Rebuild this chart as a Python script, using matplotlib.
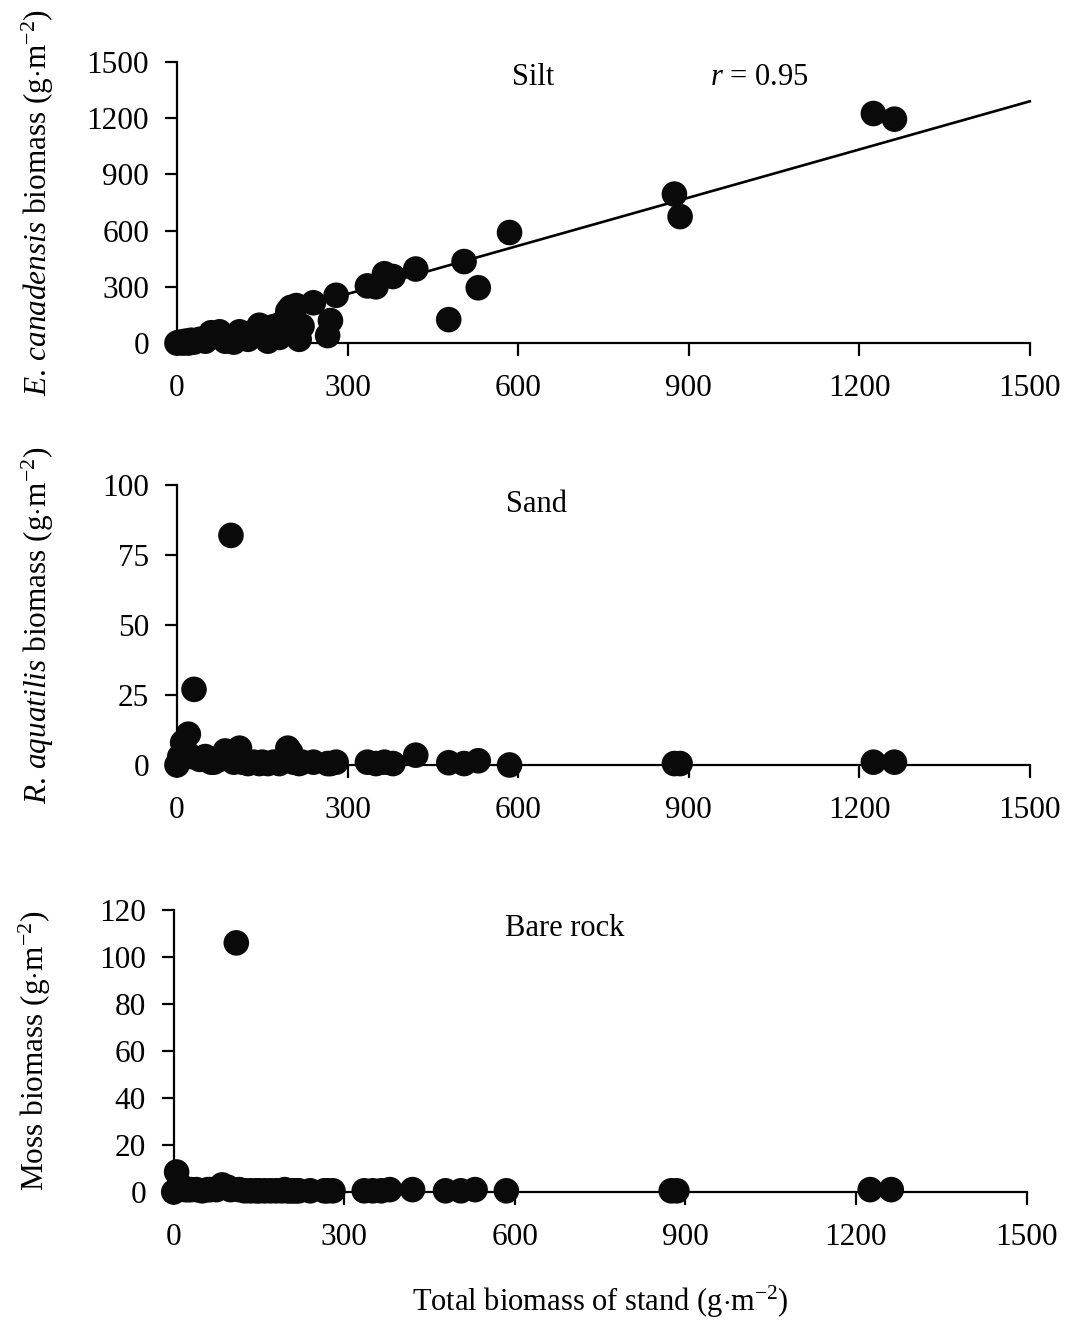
import numpy as np
import matplotlib.pyplot as plt

plt.rcParams['font.family'] = ['Liberation Serif', 'DejaVu Serif']
plt.rcParams['mathtext.fontset'] = 'custom'
plt.rcParams['mathtext.rm'] = 'Liberation Serif'
plt.rcParams['mathtext.it'] = 'Liberation Serif:italic'
plt.rcParams['mathtext.bf'] = 'Liberation Serif:bold'

# total biomass of each stand (g m-2), shared by all panels
total_biomass = [0, 5, 10, 15, 20, 25, 30, 40, 50, 60, 65, 75, 85, 95, 100,
                 110, 115, 125, 135, 145, 150, 160, 170, 180, 190, 195, 200,
                 205, 210, 215, 220, 240, 265, 270, 280, 335, 350, 365, 380,
                 420, 478, 505, 530, 585, 875, 885, 1225, 1262]

# E. canadensis biomass on silt
elodea = [0, 5, 0, 10, 0, 15, 5, 20, 10, 55, 40, 60, 10, 30, 5,
          60, 40, 20, 50, 95, 40, 10, 85, 30, 120, 170, 190,
          140, 200, 20, 90, 215, 40, 120, 255, 305, 300, 370, 355,
          395, 125, 435, 295, 590, 795, 675, 1225, 1195]

# R. aquatilis biomass on sand
ranunculus = [0, 3, 8, 5, 11, 3, 27, 2, 3, 1, 1, 2, 5, 82, 1,
              6, 1, 0.5, 1, 0.5, 1, 0.5, 1, 0.5, 2, 6, 4.5,
              1, 1, 0.5, 1, 1, 0.5, 0.5, 1, 1, 0.5, 1, 0.5,
              3.5, 0.8, 0.5, 1.5, 0, 0.5, 0.5, 1, 1]

# moss biomass on bare rock
moss = [0, 8.5, 3, 2, 1, 1, 1, 1, 0.5, 1, 1, 1, 3, 2, 1,
        106, 1, 0.5, 0.5, 0.5, 0.5, 0.5, 0.5, 0.5, 0.5, 1, 0.5,
        0.5, 0.5, 0.5, 0.5, 0.5, 0.5, 0.5, 0.5, 0.5, 0.5, 0.5, 1,
        1, 0.5, 0.5, 1, 0.5, 0.5, 0.5, 1, 1]

# regression line for silt panel (r = 0.95)
fit_x = [0, 1500]
fit_y = [5, 1290]

xticks = [0, 300, 600, 900, 1200, 1500]

fig = plt.figure(figsize=(10.66, 13.39), dpi=100)

panels = [
    dict(rect=[0.166, 0.7438, 0.800, 0.2099], y=elodea,
         yticks=[0, 300, 600, 900, 1200, 1500],
         ylabel=r'$\it{E.\,canadensis}$ biomass (g$\cdot$m$^{-2}$)',
         title='Silt', tx=626, ty=1417),
    dict(rect=[0.166, 0.4287, 0.800, 0.2091], y=ranunculus,
         yticks=[0, 25, 50, 75, 100],
         ylabel=r'$\it{R.\,aquatilis}$ biomass (g$\cdot$m$^{-2}$)',
         title='Sand', tx=633, ty=93),
    dict(rect=[0.163, 0.1098, 0.800, 0.2106], y=moss,
         yticks=[0, 20, 40, 60, 80, 100, 120],
         ylabel=r'Moss biomass (g$\cdot$m$^{-2}$)',
         title='Bare rock', tx=687, ty=112),
]

for i, p in enumerate(panels):
    ax = fig.add_axes(p['rect'])
    ax.scatter(total_biomass, p['y'], s=340, c='#0a0a0a', edgecolors='none',
               clip_on=False, zorder=3)
    ax.set_xlim(0, 1500)
    ax.set_ylim(p['yticks'][0], p['yticks'][-1])
    ax.set_xticks(xticks)
    ax.set_yticks(p['yticks'])
    for s in ['top', 'right']:
        ax.spines[s].set_visible(False)
    for s in ['left', 'bottom']:
        ax.spines[s].set_linewidth(1.6)
    ax.tick_params(axis='x', direction='out', length=9, width=1.6,
                   labelsize=22.5, pad=13)
    ax.tick_params(axis='y', direction='out', length=9, width=1.6,
                   labelsize=22.5, pad=11)
    ax.set_ylabel(p['ylabel'], fontsize=22.5)
    ax.yaxis.set_label_coords(-0.142, 0.5)
    ax.text(p['tx'], p['ty'], p['title'], fontsize=22, ha='center', va='center')
    if i == 0:
        ax.plot(fit_x, fit_y, color='black', linewidth=1.9, zorder=2,
                clip_on=False)
        ax.text(1025, 1417, r'$\it{r}$ = 0.95', fontsize=22,
                ha='center', va='center')

fig.text(0.563, 0.014, r'Total biomass of stand (g$\cdot$m$^{-2}$)',
         fontsize=22, ha='center', va='bottom')

fig.savefig('out.png', dpi=100)
